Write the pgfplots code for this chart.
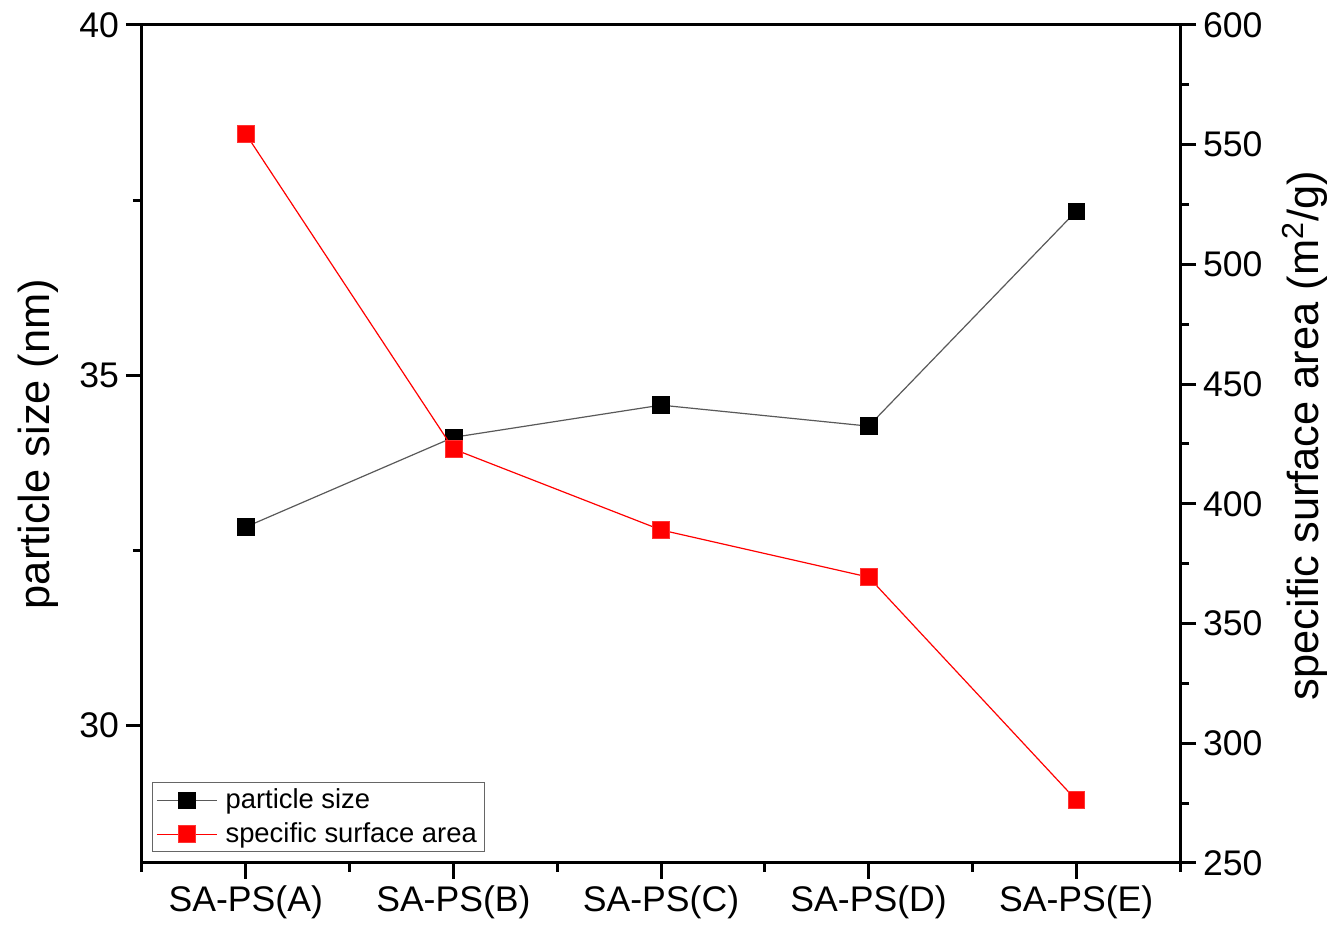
\documentclass[border=0pt]{standalone}
\usepackage{fontspec}
\setmainfont{Liberation Sans}
\usepackage{pgfplots}
\pgfplotsset{compat=1.18}
\begin{document}
\begin{tikzpicture}
\pgfplotsset{
  every axis/.append style={
    scale only axis, width=519pt, height=419pt,
    xmin=-0.5, xmax=4.5,
    axis line style={line width=1.5pt},
    every tick/.style={line width=1.5pt, black},
    major tick length=8pt, minor tick length=4.5pt,
    tick align=outside,
    /pgf/number format/assume math mode=true,
    tick label style={font=\fontsize{17.8}{20}\selectfont},
    label style={font=\fontsize{21.7}{24}\selectfont},
  },
}
\path[use as bounding box] (-71pt,-36pt) rectangle (598.5pt,431.5pt);
\begin{axis}[
  at={(0,0)}, anchor=south west,
  ymin=28.03, ymax=40,
  ytick={30,35,40}, minor ytick={32.5,37.5},
  xtick={0,1,2,3,4},
  xticklabels={SA-PS(A),SA-PS(B),SA-PS(C),SA-PS(D),SA-PS(E)},
  minor xtick={-0.5,0.5,1.5,2.5,3.5,4.5},
  xtick pos=bottom, ytick pos=left,
  ylabel={particle size (nm)},
  ylabel style={at={(axis description cs:-0.1,0.5)}, anchor=center},
]
\addplot[color=black!65, line width=0.6pt, mark=square*, mark size=4.2pt,
  mark options={fill=black, draw=black, solid, line width=0.3pt}]
  coordinates {(0,32.83) (1,34.11) (2,34.57) (3,34.27) (4,37.34)};
\end{axis}
\begin{axis}[
  at={(0,0)}, anchor=south west,
  axis y line*=right, axis x line=none,
  ymin=250, ymax=600,
  ytick={250,300,...,600}, minor y tick num=1,
  ylabel={specific surface area (m\textsuperscript{2}/g)},
  ylabel style={at={(axis description cs:1.12,0.51)}, anchor=center},
  legend cell align=left,
  legend style={at={(axis description cs:0.0096,0.0131)}, anchor=south west,
    draw=black!60, font=\fontsize{13.7}{16}\selectfont,
    inner xsep=2pt, inner ysep=1pt, row sep=1.5pt},
  legend image code/.code={\draw[mark repeat=2,mark phase=2] plot coordinates {(0pt,0pt) (15pt,0pt) (30pt,0pt)};\path (32pt,0pt);},
]
\addlegendimage{color=black!65, line width=0.6pt, mark=square*, mark size=4.2pt, mark options={fill=black, draw=black, solid, line width=0.3pt}}
\addlegendentry{particle size}
\addplot[color=red, line width=0.6pt, mark=square*, mark size=4.2pt,
  mark options={fill=red, draw=red!80, solid, line width=0.3pt}]
  coordinates {(0,554.5) (1,422.9) (2,389.1) (3,369.4) (4,276.3)};
\addlegendentry{specific surface area}
\end{axis}
\end{tikzpicture}
\end{document}
